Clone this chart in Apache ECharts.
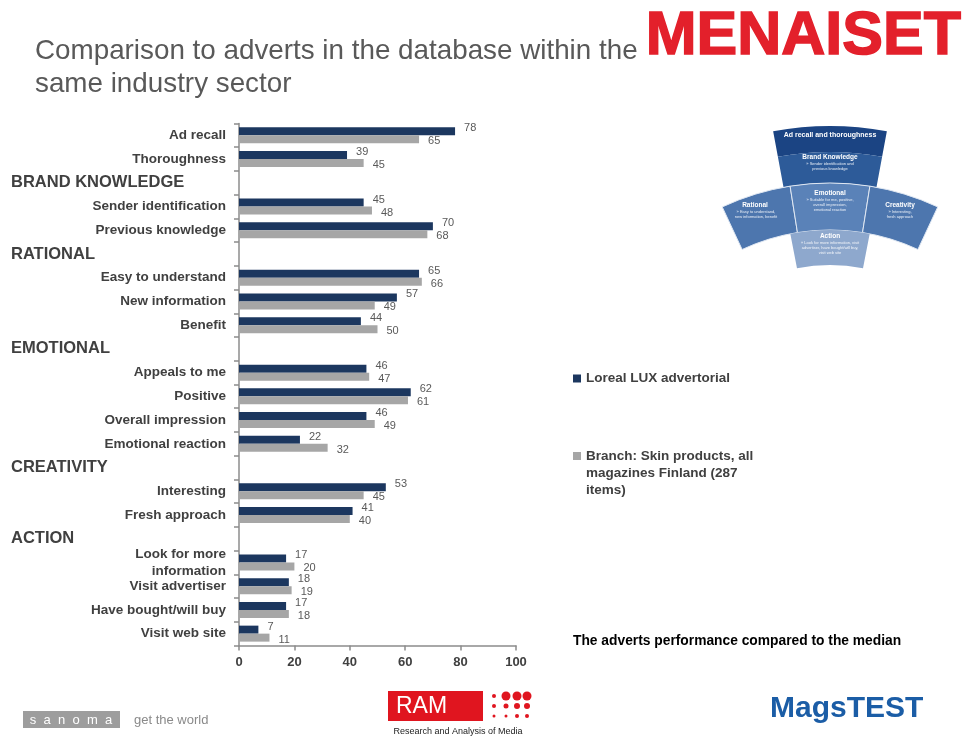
<!DOCTYPE html>
<html><head><meta charset="utf-8">
<script src="https://cdn.jsdelivr.net/npm/echarts@6/dist/echarts.min.js"></script>
<style>html,body{margin:0;padding:0;background:#fff}#c{width:965px;height:738px}</style>
</head><body><div id="c"></div>
<script>
const categories = ['Ad recall','Thoroughness','BRAND KNOWLEDGE','Sender identification','Previous knowledge','RATIONAL','Easy to understand','New information','Benefit','EMOTIONAL','Appeals to me','Positive','Overall impression','Emotional reaction','CREATIVITY','Interesting','Fresh approach','ACTION','Look for more\ninformation','Visit advertiser','Have bought/will buy','Visit web site'];
const sectionHeaders = ['BRAND KNOWLEDGE','RATIONAL','EMOTIONAL','CREATIVITY','ACTION'];
const lorealValues = [78,39,null,45,70,null,65,57,44,null,46,62,46,22,null,53,41,null,17,18,17,7];
const branchValues = [65,45,null,48,68,null,66,49,50,null,47,61,49,32,null,45,40,null,20,19,18,11];
const seriesNames = ['Loreal LUX advertorial','Branch: Skin products, all magazines Finland (287 items)'];
const legendLabels = {'Loreal LUX advertorial':'Loreal LUX advertorial','Branch: Skin products, all magazines Finland (287 items)':'\n\nBranch: Skin products, all\nmagazines Finland (287\nitems)'};
const xMin = 0, xMax = 100, xStep = 20;

const FONT = 'Arial, "Liberation Sans", sans-serif';
const chart = echarts.init(document.getElementById('c'));

const dark = '#1c375f', grey = '#a6a6a6';
const rad = d => d * Math.PI / 180;

const option = {
  animation: false,
  textStyle: {fontFamily: FONT},
  grid: {left: 239, right: 449, top: 123.5, bottom: 92.5, containLabel: false},
  xAxis: {
    type: 'value', min: xMin, max: xMax, interval: xStep,
    splitLine: {show: false},
    axisLine: {show: true, lineStyle: {color: '#8c8c8c', width: 1.5}},
    axisTick: {show: true, length: 5, lineStyle: {color: '#8c8c8c', width: 1.5}},
    axisLabel: {fontFamily: FONT, fontWeight: 'bold', fontSize: 13, color: '#404040', margin: 10}
  },
  yAxis: [{
    type: 'category', data: categories, inverse: true,
    axisLine: {show: true, lineStyle: {color: '#8c8c8c', width: 1.5}},
    axisTick: {show: true, length: 5, lineStyle: {color: '#8c8c8c', width: 1.5}},
    axisLabel: {fontFamily: FONT, fontWeight: 'bold', fontSize: 13.5, color: '#404040', margin: 13, lineHeight: 17, interval: 0,
      formatter: v => sectionHeaders.includes(v) ? '' : v}
  },{
    type: 'category', data: categories, inverse: true, position: 'left',
    axisLine: {show: false}, axisTick: {show: false},
    axisLabel: {fontFamily: FONT, fontWeight: 'bold', fontSize: 16.5, color: '#404040', margin: 228, align: 'left', interval: 0,
      formatter: v => sectionHeaders.includes(v) ? v : ''}
  }],
  legend: [{
    data: [seriesNames[0]], left: 573, top: 370, padding: 0, itemWidth: 8, itemHeight: 8, icon: 'rect',
    formatter: n => legendLabels[n],
    textStyle: {fontFamily: FONT, fontWeight: 'bold', fontSize: 13.5, color: '#404040', lineHeight: 17}
  },{
    data: [seriesNames[1]], left: 573, top: 413.5, padding: 0, itemWidth: 8, itemHeight: 8, icon: 'rect',
    formatter: n => legendLabels[n],
    textStyle: {fontFamily: FONT, fontWeight: 'bold', fontSize: 13.5, color: '#404040', lineHeight: 17}
  }],
  series: [{
    name: seriesNames[0], type: 'bar', data: lorealValues, barWidth: 8, barGap: '0%',
    itemStyle: {color: dark},
    label: {show: true, position: 'right', distance: 9, color: '#595959', fontSize: 11, fontFamily: FONT, offset: [0,-3]}
  },{
    name: seriesNames[1], type: 'bar', data: branchValues, barWidth: 8, barGap: '0%',
    itemStyle: {color: grey},
    label: {show: true, position: 'right', distance: 9, color: '#595959', fontSize: 11, fontFamily: FONT, offset: [0,2]}
  }],
  graphic: [
    {type: 'text', left: 35, top: 35, style: {text: 'Comparison to adverts in the database within the\nsame industry sector', font: '27.8px ' + FONT, fill: '#595959', lineHeight: 33}},
    {type: 'text', left: 645, top: 6, style: {text: 'MENAISET', font: 'bold 61px ' + FONT, fill: '#e3202b', stroke: '#e3202b', lineWidth: 1.5}},
    {type: 'text', left: 573, top: 634, style: {text: 'The adverts performance compared to the median', font: 'bold 13.8px ' + FONT, fill: '#000'}},
    // diagram
    {type: 'sector', shape: {cx: 830, cy: 438, r0: 286, r: 312, startAngle: rad(-100.5), endAngle: rad(-79.5)}, style: {fill: '#1b4483'}},
    {type: 'sector', shape: {cx: 830, cy: 438, r0: 255, r: 286, startAngle: rad(-100.5), endAngle: rad(-79.5)}, style: {fill: '#2d5b99'}},
    {type: 'sector', shape: {cx: 830, cy: 438, r0: 208, r: 255, startAngle: rad(-115), endAngle: rad(-99)}, style: {fill: '#4d76ae', stroke: '#dfe7f2', lineWidth: 1}},
    {type: 'sector', shape: {cx: 830, cy: 438, r0: 208, r: 255, startAngle: rad(-99), endAngle: rad(-81)}, style: {fill: '#5a82b8', stroke: '#dfe7f2', lineWidth: 1}},
    {type: 'sector', shape: {cx: 830, cy: 438, r0: 208, r: 255, startAngle: rad(-81), endAngle: rad(-65)}, style: {fill: '#4d76ae', stroke: '#dfe7f2', lineWidth: 1}},
    {type: 'sector', shape: {cx: 830, cy: 438, r0: 173, r: 208, startAngle: rad(-101), endAngle: rad(-79)}, style: {fill: '#8ea8cd'}},
    {type: 'text', style: {x: 830, y: 135, text: 'Ad recall and thoroughness', font: 'bold 7px ' + FONT, fill: '#fff', align: 'center', verticalAlign: 'middle'}},
    {type: 'text', style: {x: 830, y: 157, text: 'Brand Knowledge', font: 'bold 6.5px ' + FONT, fill: '#fff', align: 'center', verticalAlign: 'middle'}},
    {type: 'text', style: {x: 830, y: 166, text: '» Sender identification and\nprevious knowledge', font: '4px ' + FONT, fill: '#e8eef7', align: 'center', verticalAlign: 'middle', lineHeight: 5}},
    {type: 'text', style: {x: 755, y: 205, text: 'Rational', font: 'bold 6.5px ' + FONT, fill: '#fff', align: 'center', verticalAlign: 'middle'}},
    {type: 'text', style: {x: 756, y: 214, text: '» Easy to understand,\nnew information, benefit', font: '4px ' + FONT, fill: '#e8eef7', align: 'center', verticalAlign: 'middle', lineHeight: 5}},
    {type: 'text', style: {x: 830, y: 193, text: 'Emotional', font: 'bold 6.5px ' + FONT, fill: '#fff', align: 'center', verticalAlign: 'middle'}},
    {type: 'text', style: {x: 830, y: 205, text: '» Suitable for me, positive,\noverall impression,\nemotional reaction', font: '4px ' + FONT, fill: '#e8eef7', align: 'center', verticalAlign: 'middle', lineHeight: 5}},
    {type: 'text', style: {x: 900, y: 205, text: 'Creativity', font: 'bold 6.5px ' + FONT, fill: '#fff', align: 'center', verticalAlign: 'middle'}},
    {type: 'text', style: {x: 900, y: 214, text: '» Interesting,\nfresh approach', font: '4px ' + FONT, fill: '#e8eef7', align: 'center', verticalAlign: 'middle', lineHeight: 5}},
    {type: 'text', style: {x: 830, y: 236, text: 'Action', font: 'bold 6.5px ' + FONT, fill: '#fff', align: 'center', verticalAlign: 'middle'}},
    {type: 'text', style: {x: 830, y: 248, text: '» Look for more information, visit\nadvertiser, have bought/will buy,\nvisit web site', font: '4px ' + FONT, fill: '#f2f5fa', align: 'center', verticalAlign: 'middle', lineHeight: 5}},
    // footer logos
    {type: 'rect', shape: {x: 23, y: 711, width: 97, height: 17}, style: {fill: '#9d9d9d'}},
    {type: 'text', style: {x: 71, y: 720, text: 's  a  n  o  m  a', font: '13px ' + FONT, fill: '#fff', align: 'center', verticalAlign: 'middle'}},
    {type: 'text', style: {x: 134, y: 720, text: 'get the world', font: '13px ' + FONT, fill: '#8a8a8a', verticalAlign: 'middle'}},
    {type: 'rect', shape: {x: 388, y: 691, width: 95, height: 30}, style: {fill: '#e0151f'}},
    {type: 'text', style: {x: 396, y: 707, text: 'RAM', font: '23px ' + FONT, fill: '#fff', verticalAlign: 'middle'}},
    {type: 'text', style: {x: 458, y: 732, text: 'Research and Analysis of Media', font: '9px ' + FONT, fill: '#222', align: 'center', verticalAlign: 'middle'}},
    {type: 'circle', shape: {cx: 506, cy: 696, r: 4.5}, style: {fill: '#e0151f'}},
    {type: 'circle', shape: {cx: 517, cy: 696, r: 4.5}, style: {fill: '#e0151f'}},
    {type: 'circle', shape: {cx: 527, cy: 696, r: 4.5}, style: {fill: '#e0151f'}},
    {type: 'circle', shape: {cx: 494, cy: 696, r: 2}, style: {fill: '#e0151f'}},
    {type: 'circle', shape: {cx: 494, cy: 706, r: 2}, style: {fill: '#e0151f'}},
    {type: 'circle', shape: {cx: 506, cy: 706, r: 2.5}, style: {fill: '#e0151f'}},
    {type: 'circle', shape: {cx: 517, cy: 706, r: 3}, style: {fill: '#e0151f'}},
    {type: 'circle', shape: {cx: 527, cy: 706, r: 3}, style: {fill: '#e0151f'}},
    {type: 'circle', shape: {cx: 494, cy: 716, r: 1.5}, style: {fill: '#e0151f'}},
    {type: 'circle', shape: {cx: 506, cy: 716, r: 1.5}, style: {fill: '#e0151f'}},
    {type: 'circle', shape: {cx: 517, cy: 716, r: 2}, style: {fill: '#e0151f'}},
    {type: 'circle', shape: {cx: 527, cy: 716, r: 2}, style: {fill: '#e0151f'}},
    {type: 'text', style: {x: 770, y: 709, text: 'MagsTEST', font: 'bold 30px ' + FONT, fill: '#1b5da6', verticalAlign: 'middle'}}
  ]
};
chart.setOption(option);
</script></body></html>
